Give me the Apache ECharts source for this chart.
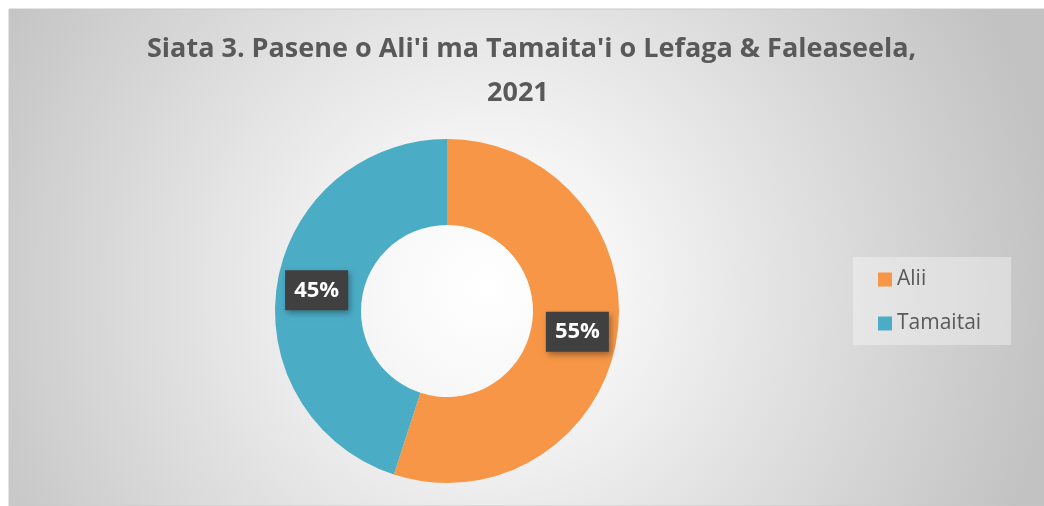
<!DOCTYPE html>
<html>
<head>
<meta charset="utf-8">
<script src="https://cdn.jsdelivr.net/npm/echarts@6/dist/echarts.min.js"></script>
<style>
  html, body { margin: 0; padding: 0; background: #fff; }
  #chart { width: 1044px; height: 506px; }
</style>
</head>
<body>
<div id="chart"></div>
<script>
const titleLines = ["Siata 3. Pasene o Ali'i ma Tamaita'i o Lefaga & Faleaseela,", '2021']
const categories = ['Alii', 'Tamaitai']
const values = [55, 45]
const colors = ['#F79646', '#4BACC6']

const chart = echarts.init(document.getElementById('chart'))

const titleStyle = {
  fontFamily: 'Open Sans',
  fontWeight: 'bold',
  fontSize: 27,
  lineHeight: 44,
  color: '#595959'
}

const option = {
  backgroundColor: '#fff',
  animation: false,
  graphic: [
    {
      type: 'rect',
      z: -10,
      silent: true,
      shape: { x: 9, y: 9, width: 1040, height: 497 },
      style: {
        fill: new echarts.graphic.RadialGradient(0.46, 0.56, 1.15, [
          { offset: 0, color: '#ffffff' },
          { offset: 0.2, color: '#f7f7f7' },
          { offset: 1, color: '#c2c2c2' }
        ]),
        stroke: '#c8c8c8',
        lineWidth: 1
      }
    }
  ],
  title: [
    { text: titleLines[0], left: 147, top: 27, padding: 0, textStyle: titleStyle },
    { text: titleLines[1], left: 487, top: 71, padding: 0, textStyle: titleStyle }
  ],
  legend: {
    orient: 'vertical',
    left: 853,
    top: 257,
    padding: [12, 30, 11, 25],
    backgroundColor: 'rgba(255,255,255,0.35)',
    itemWidth: 14,
    itemHeight: 14,
    itemGap: 23,
    icon: 'rect',
    data: categories,
    textStyle: {
      fontFamily: 'Open Sans',
      fontSize: 21,
      lineHeight: 20,
      color: '#595959'
    }
  },
  series: [
    {
      type: 'pie',
      center: [447, 311],
      radius: [86, 172],
      startAngle: 90,
      clockwise: true,
      color: colors,
      itemStyle: { borderWidth: 0 },
      label: {
        show: true,
        position: 'inside',
        formatter: '{d}%',
        fontFamily: 'Open Sans',
        fontWeight: 'bold',
        fontSize: 22,
        color: '#fff',
        backgroundColor: '#404040',
        padding: [9, 9, 9, 9],
        shadowBlur: 6,
        shadowOffsetX: 2,
        shadowOffsetY: 3,
        shadowColor: 'rgba(0,0,0,0.35)'
      },
      labelLine: { show: false },
      data: categories.map((c, i) => ({ name: c, value: values[i] }))
    }
  ]
}

chart.setOption(option)
</script>
</body>
</html>
